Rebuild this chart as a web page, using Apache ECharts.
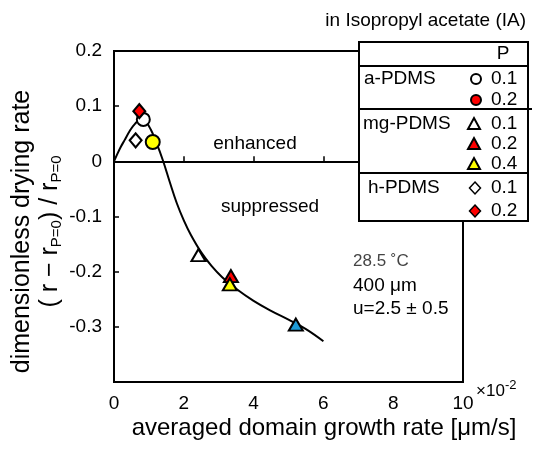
<!DOCTYPE html>
<html>
<head>
<meta charset="utf-8">
<script src="https://cdn.jsdelivr.net/npm/echarts@6/dist/echarts.min.js"></script>
<style>
  html, body { margin: 0; padding: 0; background: #fff; }
  #main { width: 538px; height: 449px; }
</style>
</head>
<body>
<div id="main"></div>
<script>
// fitted curve
var curveX = [0, 0.1, 0.2, 0.3, 0.45, 0.6, 0.75, 0.9, 1.05, 1.2, 1.4, 1.6, 1.8, 2.0, 2.2, 2.5, 2.8, 3.1, 3.5, 4.0, 4.5, 5.0, 5.5, 6.0];
var curveY = [0, 0.014, 0.027, 0.038, 0.055, 0.068, 0.075, 0.072, 0.058, 0.036, 0.002, -0.038, -0.076, -0.107, -0.133, -0.165, -0.19, -0.21, -0.231, -0.253, -0.271, -0.287, -0.304, -0.326];

// measured points [x (x10^-2 um/s), y]
var aPdms01 = [[0.84, 0.076]];     // white circle
var aYellow = [[1.11, 0.035]];     // yellow circle
var hPdms01 = [[0.62, 0.038]];     // white diamond
var hPdms02 = [[0.725, 0.091]];    // red diamond
var mgPdms01 = [[2.42, -0.170]];   // white triangle
var mgPdms02 = [[3.35, -0.208]];   // red triangle
var mgPdms04 = [[3.32, -0.223]];   // yellow triangle
var mgBlue = [[5.21, -0.296]];     // blue triangle

var yTickLabels = {'0.2': '0.2', '0.1': '0.1', '0': '0', '-0.1': '-0.1', '-0.2': '-0.2', '-0.3': '-0.3', '-0.4': ''};

var FONT = 'Liberation Sans, Arial, sans-serif';
var RED = '#ff0000', YEL = '#ffff00', BLUE = '#1e9bd7';

var curveData = curveX.map(function (x, i) { return [x, curveY[i]]; });

function pt(data, symbol, size, color) {
  return {
    type: 'scatter', data: data, symbol: symbol, symbolSize: size,
    itemStyle: { color: color, borderColor: '#000', borderWidth: 2, opacity: 1 },
    z: 5
  };
}

// legend table helpers
function txt(x, y, s, align, size) {
  return { type: 'text', x: x, y: y, z: 101,
    style: { text: s, font: (size || 19) + 'px ' + FONT, fill: '#000',
      textAlign: align || 'left', align: align || 'left', textVerticalAlign: 'middle', verticalAlign: 'middle' } };
}
function circ(x, y, fill) {
  return { type: 'circle', z: 101, shape: { cx: x, cy: y, r: 5 }, style: { fill: fill, stroke: '#000', lineWidth: 2 } };
}
function tri(x, y, fill) {
  return { type: 'polygon', z: 101, shape: { points: [[x - 6, y + 5], [x + 6, y + 5], [x, y - 6]] }, style: { fill: fill, stroke: '#000', lineWidth: 2 } };
}
function dia(x, y, fill) {
  return { type: 'polygon', z: 101, shape: { points: [[x, y - 6], [x + 5.5, y], [x, y + 6], [x - 5.5, y]] }, style: { fill: fill, stroke: '#000', lineWidth: 1.5 } };
}
function hline(y, x2) {
  return { type: 'line', z: 101, shape: { x1: 359, y1: y, x2: x2 || 528, y2: y }, style: { stroke: '#000', lineWidth: 2 } };
}

var chart = echarts.init(document.getElementById('main'));
chart.setOption({
  animation: false,
  backgroundColor: '#fff',
  grid: { left: 114, right: 75, top: 51, bottom: 67, show: true, borderColor: '#000', borderWidth: 2, outerBoundsMode: 'none' },
  xAxis: {
    type: 'value', min: 0, max: 10, interval: 2,
    axisLine: { lineStyle: { color: '#000', width: 2 } },
    axisTick: { inside: true, length: 5, lineStyle: { color: '#000', width: 1.5 } },
    axisLabel: { color: '#000', fontSize: 19, fontFamily: FONT, margin: 12 },
    splitLine: { show: false }
  },
  yAxis: {
    type: 'value', min: -0.4, max: 0.2, interval: 0.1,
    axisLine: { show: true, lineStyle: { color: '#000', width: 2 } },
    axisTick: { show: true, inside: true, length: 5, lineStyle: { color: '#000', width: 1.5 } },
    axisLabel: {
      color: '#000', fontSize: 19, fontFamily: FONT, margin: 12,
      formatter: function (v) { return yTickLabels[String(Math.round(v * 10) / 10)]; }
    },
    splitLine: { show: false },
    name: '{a|dimensionless drying rate}\n{b|( r − r}{s|P=0}{b|) / r}{s|P=0}',
    nameLocation: 'middle', nameRotate: 90, nameGap: 50, nameMoveOverlap: false,
    nameTextStyle: {
      fontFamily: FONT, color: '#000', padding: [0, 30, 0, 0],
      rich: {
        a: { fontSize: 25, fontFamily: FONT, lineHeight: 28 },
        b: { fontSize: 25, fontFamily: FONT, lineHeight: 28 },
        s: { fontSize: 15, fontFamily: FONT, lineHeight: 15, verticalAlign: 'bottom' }
      }
    }
  },
  series: [
    {
      type: 'line', data: curveData, smooth: 0.4, showSymbol: false, symbol: 'none',
      lineStyle: { color: '#000', width: 2 }, z: 3,
      markLine: {
        silent: true, symbol: ['none', 'none'], label: { show: false },
        lineStyle: { color: '#000', width: 1.5, type: [6, 4] },
        data: [{ yAxis: 0 }]
      }
    },
    pt(hPdms01, 'diamond', [12, 14], '#fff'),
    pt(aPdms01, 'circle', 13, '#fff'),
    pt(hPdms02, 'diamond', [12, 14], RED),
    pt(aYellow, 'circle', 14, YEL),
    pt(mgPdms01, 'triangle', [14, 12], '#fff'),
    pt(mgPdms02, 'triangle', [14, 12], RED),
    pt(mgPdms04, 'triangle', [14, 12], YEL),
    pt(mgBlue, 'triangle', [14, 12], BLUE)
  ],
  graphic: [
    txt(526, 21, 'in Isopropyl acetate (IA)', 'right'),
    txt(255, 144, 'enhanced', 'center'),
    txt(270, 207, 'suppressed', 'center'),
    { type: 'text', x: 353, y: 261, z: 50, style: { text: '28.5 ˚C', font: '17px Liberation Sans Narrow, ' + FONT, fill: '#444', textVerticalAlign: 'middle', verticalAlign: 'middle' } },
    txt(353, 286, '400 μm'),
    txt(353, 309, 'u=2.5 ± 0.5'),
    txt(324, 428, 'averaged domain growth rate [μm/s]', 'center', 24),
    txt(476, 391, '×10', 'left', 17),
    txt(505, 385, '-2', 'left', 13),
    // legend table
    { type: 'rect', z: 100, shape: { x: 359, y: 42, width: 169, height: 179 }, style: { fill: '#fff', stroke: '#000', lineWidth: 2 } },
    hline(66), hline(109, 532), hline(173),
    txt(503, 54, 'P', 'center'),
    txt(364, 79, 'a-PDMS'), circ(476, 79, '#fff'), txt(491, 79, '0.1'),
    circ(476, 100, RED), txt(491, 100, '0.2'),
    txt(363, 124, 'mg-PDMS'), tri(474, 124, '#fff'), txt(491, 124, '0.1'),
    tri(474, 144, RED), txt(491, 144, '0.2'),
    tri(474, 164, YEL), txt(491, 164, '0.4'),
    txt(368, 188, 'h-PDMS'), dia(475, 188, '#fff'), txt(491, 188, '0.1'),
    dia(475, 211, RED), txt(491, 211, '0.2')
  ]
});
</script>
</body>
</html>
